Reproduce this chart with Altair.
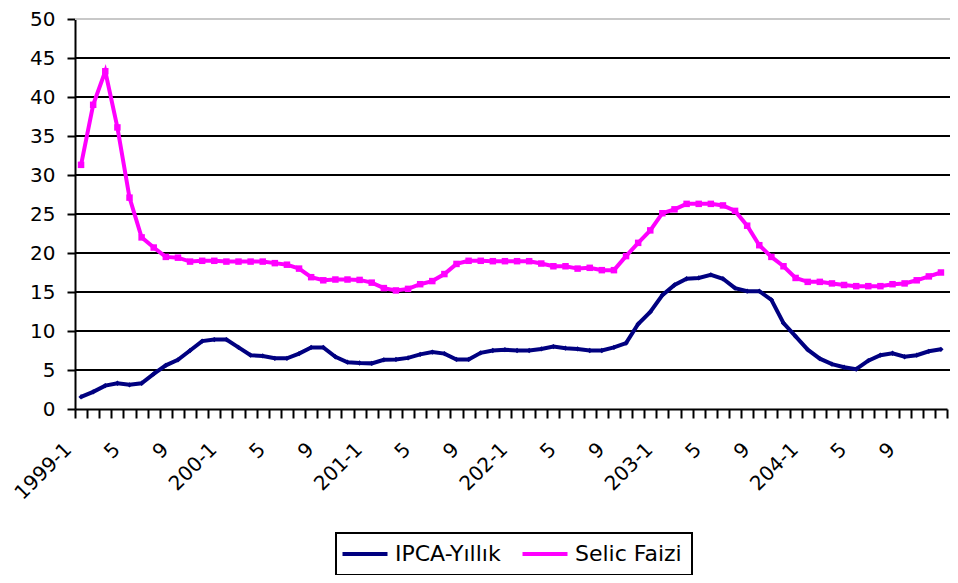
import altair as alt
import pandas as pd

# ---------------- data ----------------
years = ["1999", "200", "201", "202", "203", "204"]
months = list(range(1, 13))
categories = [f"{y}-1" if m == 1 else str(m) for y in years for m in months]

series_names = ["IPCA-Yıllık", "Selic Faizi"]

ipca = [1.55, 2.2, 3.0, 3.3, 3.1, 3.3, 4.5, 5.6, 6.3, 7.5, 8.7, 8.9,
        8.9, 7.9, 6.9, 6.8, 6.5, 6.5, 7.1, 7.9, 7.9, 6.7, 6.0, 5.9,
        5.85, 6.3, 6.35, 6.55, 7.0, 7.3, 7.1, 6.35, 6.35, 7.2, 7.5, 7.6,
        7.5, 7.5, 7.7, 8.0, 7.8, 7.7, 7.5, 7.5, 7.9, 8.45, 10.9, 12.45,
        14.6, 15.9, 16.7, 16.8, 17.2, 16.7, 15.5, 15.1, 15.1, 14.0, 11.0, 9.3,
        7.6, 6.45, 5.75, 5.35, 5.1, 6.2, 6.9, 7.15, 6.7, 6.9, 7.4, 7.65]

selic = [31.3, 39.0, 43.3, 36.1, 27.1, 22.0, 20.7, 19.5, 19.4, 18.9, 19.0, 19.0,
         18.9, 18.9, 18.9, 18.9, 18.7, 18.5, 18.0, 16.9, 16.5, 16.6, 16.6, 16.55,
         16.2, 15.5, 15.2, 15.4, 16.0, 16.4, 17.3, 18.6, 19.0, 19.0, 18.95, 18.95,
         18.95, 18.95, 18.65, 18.3, 18.3, 18.0, 18.1, 17.8, 17.8, 19.6, 21.3, 22.9,
         25.1, 25.6, 26.3, 26.3, 26.3, 26.1, 25.4, 23.5, 21.0, 19.5, 18.3, 16.8,
         16.3, 16.3, 16.1, 15.9, 15.75, 15.75, 15.75, 16.0, 16.1, 16.5, 17.0, 17.5]

y_ticks = list(range(0, 55, 5))
grid_black = list(range(5, 50, 5))
grid_gray = [50]

# ---------------- styling ----------------
W, H = 872, 390
FONT = "DejaVu Sans"
colors = ["#000080", "#FF00FF"]
shapes = ["diamond", "square"]
sizes = [28, 42]

rows = []
for name, vals in zip(series_names, [ipca, selic]):
    for i, v in enumerate(vals):
        rows.append({"series": name, "idx": i, "cat": categories[i], "value": v})
df = pd.DataFrame(rows)

shown = [c if i % 4 == 0 else "" for i, c in enumerate(categories)]
label_js = "[" + ",".join("'" + s + "'" for s in shown) + "]"
boundaries = [k - 0.5 for k in range(len(categories) + 1)]

x_scale = alt.Scale(domain=[-0.5, len(categories) - 0.5], nice=False, zero=False)
y_scale = alt.Scale(domain=[0, 50], nice=False)

x_axis = alt.Axis(
    values=boundaries,
    labelExpr=f"{label_js}[round(datum.value + 0.5)] || ''",
    title=None, grid=False,
    domainColor="black", domainWidth=2,
    tickColor="black", tickWidth=2, tickSize=9,
    labelAngle=315, labelAlign="right", labelBaseline="middle",
    labelOffset=-7, labelPadding=28,
    labelFont=FONT, labelFontSize=20, labelColor="black",
    labelOverlap=False, labelFlush=False, labelBound=False,
)
y_axis = alt.Axis(
    values=y_ticks, title=None, grid=False,
    domainColor="black", domainWidth=2,
    tickColor="black", tickWidth=2, tickSize=8,
    labelPadding=12, labelFont=FONT, labelFontSize=20, labelColor="black",
)

X = alt.X("idx:Q", scale=x_scale, axis=x_axis)
Y = alt.Y("value:Q", scale=y_scale, axis=y_axis)

grid1 = alt.Chart(pd.DataFrame({"value": grid_black})).mark_rule(
    color="black", strokeWidth=2
).encode(y=Y, x=alt.value(0), x2=alt.value(W + 10))

grid2 = alt.Chart(pd.DataFrame({"value": grid_gray})).mark_rule(
    color="#c8c8c8", strokeWidth=2
).encode(y=Y, x=alt.value(0), x2=alt.value(W + 10))

color_scale = alt.Scale(domain=series_names, range=colors)

legend = alt.Legend(
    orient="none", legendX=261, legendY=514, direction="horizontal",
    title=None, symbolType="M-2.5,0H2.5", symbolSize=324, symbolStrokeWidth=4,
    symbolOffset=8, labelOffset=19, columnPadding=13,
    labelFont=FONT, labelFontSize=22, labelColor="black",
    strokeColor="black", padding=10,
)

lines = alt.Chart(df).mark_line(strokeWidth=4).encode(
    x=X, y=Y,
    color=alt.Color("series:N", scale=color_scale, legend=legend),
)

point_layers = []
for name, col, shp, sz in zip(series_names, colors, shapes, sizes):
    point_layers.append(
        alt.Chart(df).transform_filter(alt.datum.series == name)
        .mark_point(filled=True, opacity=1, color=col, shape=shp, size=sz)
        .encode(x=X, y=Y)
    )

chart = alt.layer(grid1, grid2, lines, *point_layers).properties(
    width=W, height=H,
    padding={"left": 67, "top": 11, "right": 3, "bottom": 166},
    autosize=alt.AutoSizeParams(type="none"),
    background="white",
).configure_view(stroke=None).configure_legend(
    strokeWidth=2, strokeColor="black"
)

chart.save("out.html", embed_options={"renderer": "svg", "actions": False})
